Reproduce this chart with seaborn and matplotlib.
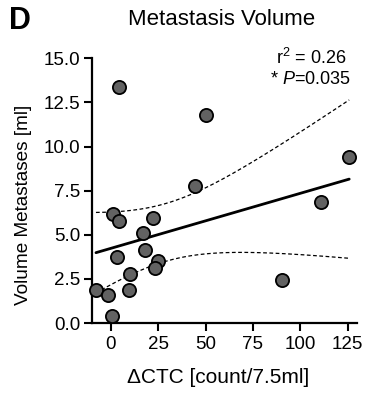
import numpy as np
import pandas as pd
import matplotlib
matplotlib.use("Agg")
import matplotlib.pyplot as plt
import seaborn as sns

# Data
delta_ctc = [4.4, 50.1, 125.9, 44.3, 110.8, 0.9, 4.4, 22.0, 17.1, 18.1,
             3.2, 25.0, 23.2, 10.0, 9.3, -7.9, -1.8, 0.35, 90.5]
met_volume = [13.36, 11.79, 9.38, 7.74, 6.85, 6.17, 5.79, 5.98, 5.09, 4.15,
              3.74, 3.53, 3.11, 2.77, 1.85, 1.85, 1.57, 0.42, 2.45]
x_ticks = [0, 25, 50, 75, 100, 125]
y_ticks = [0.0, 2.5, 5.0, 7.5, 10.0, 12.5, 15.0]
title = "Metastasis Volume"
panel_letter = "D"
xlabel = "ΔCTC [count/7.5ml]"
ylabel = "Volume Metastases [ml]"
stats_text_r2 = "r$^2$ = 0.26"
stats_text_p = "* $\\it{P}$=0.035"

sns.set_style("ticks")
plt.rcParams['font.family'] = ['Liberation Sans', 'DejaVu Sans']
plt.rcParams['mathtext.fontset'] = 'custom'
plt.rcParams['mathtext.rm'] = 'Liberation Sans'
plt.rcParams['mathtext.it'] = 'Liberation Sans:italic'
for key in ['text.color', 'axes.labelcolor', 'xtick.color', 'ytick.color',
            'axes.edgecolor', 'xtick.labelcolor', 'ytick.labelcolor']:
    plt.rcParams[key] = 'black'

df = pd.DataFrame({"x": delta_ctc, "y": met_volume})

# Linear fit with analytic 95% confidence band
x = np.asarray(delta_ctc, float)
y = np.asarray(met_volume, float)
n = len(x)
slope, intercept = np.polyfit(x, y, 1)
resid = y - (slope * x + intercept)
s_err = np.sqrt(np.sum(resid ** 2) / (n - 2))
t_crit = 2.110  # t(0.975, df=17)
xs = np.linspace(x.min(), x.max(), 200)
ys = slope * xs + intercept
se_fit = s_err * np.sqrt(1 / n + (xs - x.mean()) ** 2 / np.sum((x - x.mean()) ** 2))
fit_df = pd.DataFrame({"x": xs, "fit": ys,
                       "upper": ys + t_crit * se_fit,
                       "lower": ys - t_crit * se_fit})

fig = plt.figure(figsize=(3.65, 3.96), dpi=100)
ax = fig.add_axes([0.252, 0.184, 0.726, 0.669])

sns.lineplot(data=fit_df, x="x", y="upper", ax=ax, color="black", lw=0.9,
             linestyle=(0, (3, 2)), zorder=2)
sns.lineplot(data=fit_df, x="x", y="lower", ax=ax, color="black", lw=0.9,
             linestyle=(0, (3, 2)), zorder=2)
sns.lineplot(data=fit_df, x="x", y="fit", ax=ax, color="black", lw=2.0, zorder=2)
sns.scatterplot(data=df, x="x", y="y", ax=ax, s=90, color="#626262",
                edgecolor="black", linewidth=1.3, zorder=3, clip_on=False)

ax.set_xlim(-10, 130)
ax.set_ylim(0, 15)
ax.set_xticks(x_ticks)
ax.set_yticks(y_ticks)
ax.set_yticklabels([f"{v:.1f}" for v in y_ticks])
sns.despine(ax=ax)
for sp in ["left", "bottom"]:
    ax.spines[sp].set_linewidth(1.6)
ax.tick_params(axis="both", length=6, width=1.5, labelsize=13.5, pad=2.5, color="black")
ax.tick_params(axis="x", pad=3.5)
ax.set_xlabel(xlabel, fontsize=15)
ax.set_ylabel(ylabel, fontsize=13.7)
ax.xaxis.set_label_coords(0.475, -0.17)
ax.yaxis.set_label_coords(-0.228, 0.446)

fig.text(0.608, 0.952, title, fontsize=16, ha="center", va="center")
fig.text(0.025, 0.947, panel_letter, fontsize=22, fontweight="bold", ha="left", va="center")
ax.text(0.962, 1.0, stats_text_r2, transform=ax.transAxes, fontsize=13, ha="right", va="center")
ax.text(0.975, 0.918, stats_text_p, transform=ax.transAxes, fontsize=13, ha="right", va="center")

fig.savefig("out.png", dpi=100)
